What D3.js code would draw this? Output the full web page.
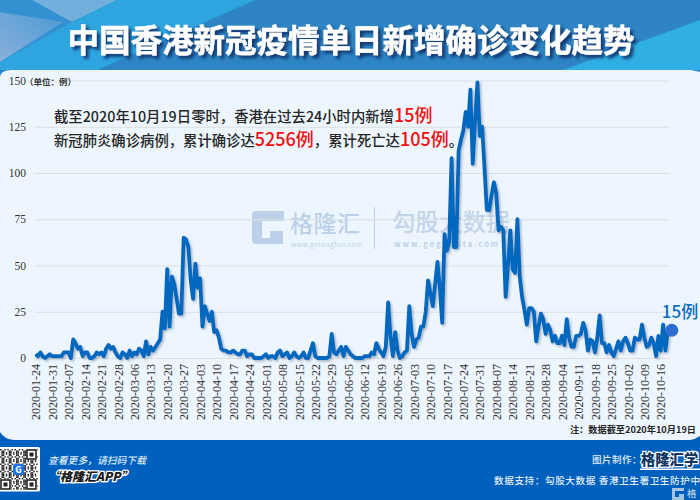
<!DOCTYPE html>
<html>
<head>
<meta charset="utf-8">
<script src="https://cdn.jsdelivr.net/npm/d3@7"></script>
<style>
html, body { margin: 0; padding: 0; background: #0060bd; overflow: hidden; }
svg { display: block; font-family: "Noto Sans CJK SC", "Noto Sans", sans-serif; }
</style>
</head>
<body>
<svg width="700" height="500"></svg>
<script>
// values, one row = one week starting at the tick label
var startDate = "2020-01-24";
var endDate = "2020-10-19";
var dailyCases = [
  2, 1, 3, 1, 0, 1, 2,
  1, 1, 1, 1, 1, 3, 3,
  3, 0, 10, 8, 5, 6, 1,
  3, 3, 0, 0, 1, 3, 2,
  3, 1, 5, 7, 5, 6, 3,
  1, 0, 3, 2, 0, 4, 1,
  3, 2, 5, 4, 1, 9, 2,
  6, 4, 6, 8, 10, 25, 16,
  48, 17, 44, 40, 32, 24, 24,
  65, 64, 60, 42, 32, 51, 38,
  43, 17, 28, 24, 20, 25, 14,
  15, 11, 5, 4, 4, 3, 3,
  4, 3, 2, 2, 4, 4, 1,
  2, 2, 0, 0, 0, 0, 1,
  2, 0, 1, 1, 0, 3, 4,
  1, 2, 3, 0, 1, 3, 1,
  0, 1, 3, 0, 0, 4, 8,
  1, 0, 0, 0, 0, 0, 1,
  13, 3, 2, 4, 6, 1, 6,
  4, 2, 1, 0, 0, 0, 0,
  1, 1, 1, 3, 2, 8, 5,
  3, 1, 6, 30, 12, 1, 14,
  4, 0, 1, 3, 4, 28, 13,
  6, 10, 11, 17, 17, 25, 42,
  35, 28, 40, 52, 38, 19, 67,
  58, 63, 108, 60, 60, 112, 118,
  123, 133, 125, 145, 105, 128, 149,
  120, 125, 103, 80, 80, 88, 95,
  89, 69, 71, 69, 33, 50, 69,
  48, 46, 75, 44, 33, 26, 18,
  27, 27, 25, 9, 17, 24, 21,
  13, 18, 15, 9, 12, 8, 8,
  12, 7, 21, 11, 6, 6, 12,
  12, 13, 19, 15, 4, 10, 9,
  3, 11, 23, 8, 8, 3, 7,
  3, 1, 5, 9, 4, 9, 11,
  8, 4, 4, 11, 10, 10, 18,
  11, 6, 7, 11, 8, 1, 12,
  4, 18, 4, 15
];
var yTicks = [0, 25, 50, 75, 100, 125, 150];
var tickLabels = [
  "2020-01-24", "2020-01-31", "2020-02-07", "2020-02-14", "2020-02-21", "2020-02-28",
  "2020-03-06", "2020-03-13", "2020-03-20", "2020-03-27", "2020-04-03", "2020-04-10",
  "2020-04-17", "2020-04-24", "2020-05-01", "2020-05-08", "2020-05-15", "2020-05-22",
  "2020-05-29", "2020-06-05", "2020-06-12", "2020-06-19", "2020-06-26", "2020-07-03",
  "2020-07-10", "2020-07-17", "2020-07-24", "2020-07-31", "2020-08-07", "2020-08-14",
  "2020-08-21", "2020-08-28", "2020-09-04", "2020-09-11", "2020-09-18", "2020-09-25",
  "2020-10-02", "2020-10-09", "2020-10-16"
];
var title = "中国香港新冠疫情单日新增确诊变化趋势";
var lastLabel = "15例";

var svg = d3.select("svg");
var defs = svg.append("defs");

var parseDate = d3.utcParse("%Y-%m-%d");
var fmtDate = d3.utcFormat("%Y-%m-%d");
var x = d3.scaleUtc().domain([parseDate(startDate), parseDate(endDate)]).range([35.6, 667.8]);
var y = d3.scaleLinear().domain([0, 150]).range([358, 80.5]);
var days = d3.utcDay.range(parseDate(startDate), d3.utcDay.offset(parseDate(endDate), 1));

// ---- header background
var shadow = defs.append("filter").attr("id", "titleShadow")
  .attr("x", "-5%").attr("y", "-30%").attr("width", "110%").attr("height", "170%");
shadow.append("feDropShadow").attr("dx", 3).attr("dy", 3).attr("stdDeviation", 1.5)
  .attr("flood-color", "#08306a").attr("flood-opacity", 0.95);

var lineShadow = defs.append("filter").attr("id", "lineShadow")
  .attr("x", "-5%").attr("y", "-5%").attr("width", "110%").attr("height", "110%");
lineShadow.append("feDropShadow").attr("dx", 1.5).attr("dy", 1.5).attr("stdDeviation", 1)
  .attr("flood-color", "#6f859c").attr("flood-opacity", 0.6);

var leftGrad = defs.append("linearGradient").attr("id", "leftGrad")
  .attr("x1", 0).attr("x2", 1).attr("y1", 1).attr("y2", 0);
leftGrad.append("stop").attr("offset", "0%").attr("stop-color", "#8ab0da");
leftGrad.append("stop").attr("offset", "100%").attr("stop-color", "#4a9ad4");

svg.append("rect").attr("width", 700).attr("height", 80).attr("fill", "#2e84c4");
svg.append("path").attr("d", "M0,0 L32,0 L72,22 L0,62 Z").attr("fill", "#3590d2");
svg.append("path").attr("d", "M0,12 L63,22 L0,62 Z").attr("fill", "url(#leftGrad)");
svg.append("path").attr("d", "M32,0 L117,0 L72,22 Z").attr("fill", "#72afdc");
svg.append("path").attr("d", "M117,0 L255,0 L97,70 L0,70 L0,62 L72,22 Z").attr("fill", "#2ea5df");
svg.append("path").attr("d", "M563,70 L700,20 L700,70 Z").attr("fill", "#2fafe3");

svg.append("text").attr("x", 351).attr("y", 52)
  .attr("text-anchor", "middle")
  .attr("font-size", 31.5).attr("font-weight", 700)
  .attr("fill", "#fff").attr("stroke", "#fff").attr("stroke-width", 0.4)
  .attr("filter", "url(#titleShadow)")
  .text(title);

// ---- footer and card
svg.append("rect").attr("y", 440).attr("width", 700).attr("height", 60).attr("fill", "#0060bd");
svg.append("path")
  .attr("d", "M0,78 Q0,70 12,70 L690,70 Q696,71 700,72 L700,436 Q696,439 690,440 L14,440 Q4,439 0,432 Z")
  .attr("fill", "#edf6fe");

// ---- watermark, sits under the line
var mark = svg.append("g").attr("fill", "#bcd0e8");
mark.append("path")
  .attr("fill-rule", "evenodd")
  .attr("d", "M256,211 H284 V221 H262 V238 H270 V231 H283 V244 L277,244 L270,244 H256 Q252,244 252,240 V215 Q252,211 256,211 Z");
mark.append("text").attr("x", 290).attr("y", 232).attr("font-size", 23).attr("font-weight", 500)
  .attr("textLength", 70).text("格隆汇");
mark.append("text").attr("x", 291).attr("y", 246.5).attr("font-size", 6.5).attr("letter-spacing", 0.55)
  .text("www.gelonghui.com");
mark.append("rect").attr("x", 374).attr("y", 207).attr("width", 1).attr("height", 42);
mark.append("text").attr("x", 392).attr("y", 231).attr("font-size", 23.5).attr("font-weight", 500)
  .attr("fill", "#c3d4ea").text("勾股大数据");
mark.append("text").attr("x", 394).attr("y", 247).attr("font-size", 7.5).attr("font-weight", 700)
  .attr("letter-spacing", 2).text("www.gogudata.com");

// ---- grid and axes
svg.append("g").selectAll("line").data(yTicks).enter().append("line")
  .attr("x1", 34).attr("x2", 670)
  .attr("y1", function(d) { return y(d) + 0.5; })
  .attr("y2", function(d) { return y(d) + 0.5; })
  .attr("stroke", "#dcdee0").attr("stroke-width", 1);

var yAxis = svg.append("g").attr("transform", "translate(26,0)")
  .call(d3.axisLeft(y).tickValues(yTicks).tickSize(0).tickPadding(0));
yAxis.select(".domain").remove();
yAxis.selectAll("text").attr("font-family", "'Liberation Serif', serif")
  .attr("font-size", 11.5).attr("fill", "#333");

var xAxis = svg.append("g").attr("transform", "translate(0,358)")
  .call(d3.axisBottom(x)
    .tickValues(tickLabels.map(parseDate))
    .tickFormat(fmtDate)
    .tickSize(0));
xAxis.select(".domain").remove();
xAxis.selectAll("text")
  .attr("font-family", "'Liberation Serif', serif")
  .attr("font-size", 12).attr("fill", "#333")
  .attr("text-anchor", "end")
  .attr("dy", "0.35em").attr("dx", 0)
  .attr("transform", "translate(0,6) rotate(-90)")
  .attr("x", 0).attr("y", 0);

svg.append("text").attr("x", 25).attr("y", 85).attr("font-size", 8.5).attr("font-weight", 700)
  .attr("fill", "#333").text("（单位：例）");

// ---- line
var line = d3.line()
  .x(function(d, i) { return x(days[i]); })
  .y(function(d) { return y(d); });

svg.append("path").datum(dailyCases)
  .attr("fill", "none").attr("stroke", "#0068bf").attr("stroke-width", 3.8)
  .attr("stroke-linejoin", "round")
  .attr("filter", "url(#lineShadow)")
  .attr("d", line);

// end marker, set a bit right of the last point in the original
var lastVal = dailyCases[dailyCases.length - 1];
var lastX = x(days[days.length - 1]);
svg.append("circle").attr("cx", lastX + 4).attr("cy", y(lastVal)).attr("r", 6.5).attr("fill", "#2a6fd0");
svg.append("text").attr("x", lastX - 6).attr("y", y(lastVal) - 12)
  .attr("font-size", 17).attr("fill", "#0a6cc2").attr("font-weight", 500).text(lastLabel);

// ---- annotation
var note = svg.append("g").attr("font-weight", 500).attr("fill", "#262626").attr("font-size", 14.35);
var l1 = note.append("text").attr("x", 54).attr("y", 122);
l1.append("tspan").text("截至2020年10月19日零时，香港在过去24小时内新增");
l1.append("tspan").attr("fill", "#f01010").attr("font-size", 18).text("15例");
var l2 = note.append("text").attr("x", 54).attr("y", 146);
l2.append("tspan").text("新冠肺炎确诊病例，累计确诊达");
l2.append("tspan").attr("fill", "#f01010").attr("font-size", 18).text("5256例");
l2.append("tspan").text("，累计死亡达");
l2.append("tspan").attr("fill", "#f01010").attr("font-size", 18).text("105例");
l2.append("tspan").text("。");

svg.append("text").attr("x", 696).attr("y", 433).attr("text-anchor", "end")
  .attr("font-size", 9.2).attr("font-weight", 700).attr("fill", "#262626")
  .text("注：数据截至2020年10月19日");

// ---- footer content
var qr = svg.append("g").attr("transform", "translate(-2,447)");
qr.append("rect").attr("width", 42).attr("height", 44.5).attr("rx", 1.5).attr("fill", "#fff");
var cells = [];
for (var r = 0; r < 28; r++) {
  for (var c = 0; c < 26; c++) {
    if ((r * r * 3 + c * 7 + r * c * 5 + c * c) % 5 < 2) cells.push([r, c]);
  }
}
qr.selectAll("rect.cell").data(cells).enter().append("rect").attr("class", "cell")
  .attr("x", function(d) { return 2 + d[1] * 1.45; })
  .attr("y", function(d) { return 2 + d[0] * 1.45; })
  .attr("width", 1.45).attr("height", 1.45).attr("fill", "#222");
[[28, 2], [2, 32], [28, 32]].forEach(function(p) {
  qr.append("rect").attr("x", p[0]).attr("y", p[1]).attr("width", 11).attr("height", 11).attr("fill", "#fff");
  qr.append("rect").attr("x", p[0] + 1).attr("y", p[1] + 1).attr("width", 9).attr("height", 9)
    .attr("fill", "none").attr("stroke", "#222").attr("stroke-width", 1.6);
  qr.append("rect").attr("x", p[0] + 3.5).attr("y", p[1] + 3.5).attr("width", 4).attr("height", 4).attr("fill", "#222");
});
qr.append("rect").attr("x", 15).attr("y", 17).attr("width", 11).attr("height", 11).attr("rx", 2).attr("fill", "#1a73e8");
qr.append("text").attr("x", 20.5).attr("y", 25.5).attr("text-anchor", "middle")
  .attr("font-size", 9).attr("font-weight", 700).attr("fill", "#fff").text("G");

svg.append("text").attr("x", 48).attr("y", 464).attr("font-size", 9.8).attr("font-style", "italic")
  .attr("font-weight", 500).attr("fill", "#dbe9f8").text("查看更多，请扫码下载");
svg.append("text").attr("x", 48).attr("y", 481).attr("font-size", 12).attr("font-style", "italic")
  .attr("font-weight", 900).attr("fill", "#1a1a1a")
  .attr("stroke", "#fff").attr("stroke-width", 2.5).attr("paint-order", "stroke")
  .text("“格隆汇APP”");

svg.append("text").attr("x", 592).attr("y", 463).attr("font-size", 9.6).attr("font-weight", 500)
  .attr("letter-spacing", 0.4).attr("fill", "#e3eefa").text("图片制作：");
svg.append("text").attr("x", 641).attr("y", 465).attr("font-size", 14.3).attr("font-weight", 900)
  .attr("fill", "#12365f").attr("stroke", "#fff").attr("stroke-width", 2.4).attr("paint-order", "stroke")
  .text("格隆汇学");
svg.append("rect").attr("x", 640).attr("y", 468.5).attr("width", 60).attr("height", 1.5).attr("fill", "#fff");
svg.append("text").attr("x", 494).attr("y", 484).attr("font-size", 9.6).attr("font-weight", 500)
  .attr("letter-spacing", 0.6).attr("fill", "#e3eefa").text("数据支持：勾股大数据 香港卫生署卫生防护中");

var corner = svg.append("g").attr("fill", "#cfdcea").attr("fill-opacity", 0.8);
corner.append("path").attr("fill-rule", "evenodd")
  .attr("d", "M672,488 H684 V491 H675 V497 H679 V494 H684 V500 H672 Z");
corner.append("text").attr("x", 687).attr("y", 497.3).attr("font-size", 9.5).attr("font-weight", 700).text("格");
</script>
</body>
</html>
